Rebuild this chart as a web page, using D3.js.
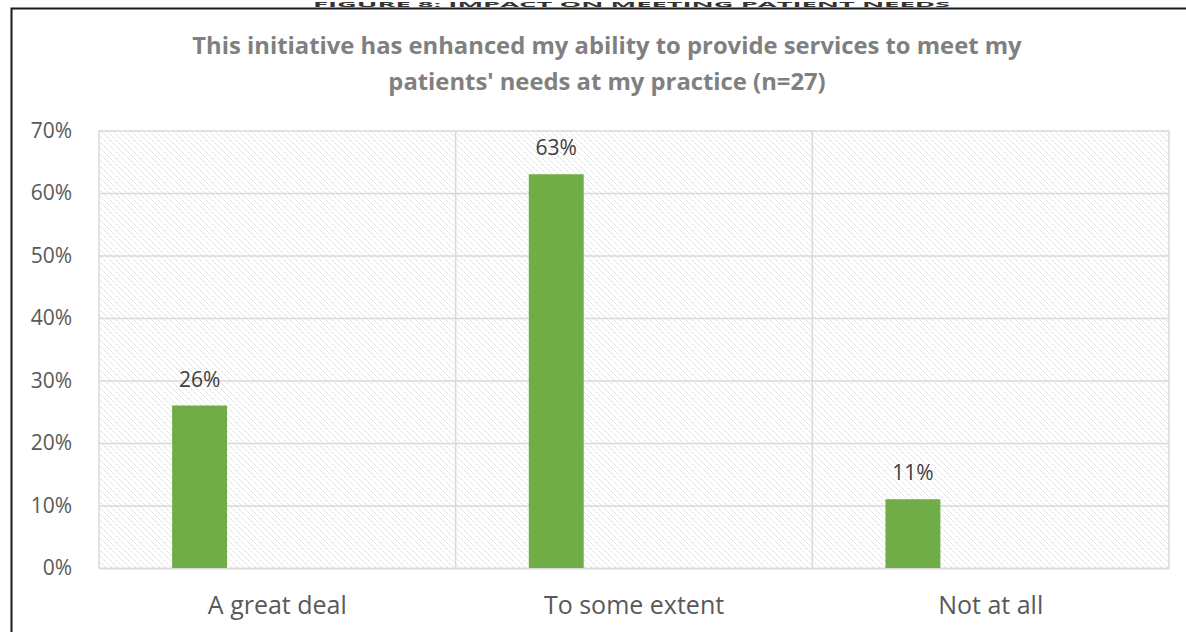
<!DOCTYPE html>
<html>
<head>
<meta charset="utf-8">
<script src="https://cdn.jsdelivr.net/npm/d3@7"></script>
<style>
  html, body { margin: 0; padding: 0; background: #fff; }
  svg { display: block; }
</style>
</head>
<body>
<svg id="chart" width="1186" height="632"></svg>
<script>
// Survey responses (share of respondents)
const categories = ["A great deal", "To some extent", "Not at all"];
const values = [0.26, 0.63, 0.11];
const valueLabels = ["26%", "63%", "11%"];
const yTicks = [0, 0.1, 0.2, 0.3, 0.4, 0.5, 0.6, 0.7];
const figureHeading = "FIGURE 8: IMPACT ON MEETING PATIENT NEEDS";
const titleLines = [
  "This initiative has enhanced my ability to provide services to meet my",
  "patients' needs at my practice (n=27)"
];

const svg = d3.select("#chart");
const W = 1186, H = 632;
const plot = { left: 99, right: 1169, top: 130.5, bottom: 568 };

// Diagonal hatch used as plot-area fill
const defs = svg.append("defs");
const pat = defs.append("pattern")
  .attr("id", "hatch")
  .attr("patternUnits", "userSpaceOnUse")
  .attr("width", 6).attr("height", 6);
pat.append("path")
  .attr("d", "M-1,-1 L7,7 M-1,5 L1,7 M5,-1 L7,1")
  .attr("stroke", "#d0d0d0")
  .attr("stroke-width", 1)
  .attr("stroke-dasharray", "1.2,0.9");

// Document heading, squeezed into the strip above the frame
svg.append("text")
  .attr("x", 313).attr("y", 7.2)
  .attr("font-family", "'Open Sans', Lato, sans-serif")
  .attr("font-weight", "bold")
  .attr("font-size", 7.5)
  .attr("textLength", 637)
  .attr("lengthAdjust", "spacingAndGlyphs")
  .attr("fill", "#333")
  .text(figureHeading);

// Chart frame
svg.append("path")
  .attr("d", `M11.5,${H + 2} L11.5,8.5 L${W + 2},8.5`)
  .attr("fill", "none")
  .attr("stroke", "#1a1a1a")
  .attr("stroke-width", 2);

// Title
svg.append("g").selectAll("text")
  .data(titleLines)
  .join("text")
  .attr("x", 607)
  .attr("y", (d, i) => 54 + i * 36)
  .attr("text-anchor", "middle")
  .attr("font-family", "'Open Sans', Lato, sans-serif")
  .attr("font-weight", "bold")
  .attr("font-size", 23.8)
  .attr("fill", "#808080")
  .text(d => d);

const x = d3.scaleBand()
  .domain(categories)
  .range([plot.left, plot.right])
  .padding(0);

const y = d3.scaleLinear()
  .domain([0, 0.7])
  .range([plot.bottom, plot.top]);

// Plot background
svg.append("rect")
  .attr("x", plot.left).attr("y", plot.top)
  .attr("width", plot.right - plot.left)
  .attr("height", plot.bottom - plot.top)
  .attr("fill", "url(#hatch)");

// Horizontal gridlines and percentage ticks
const yAxis = d3.axisLeft(y)
  .tickValues(yTicks)
  .tickFormat(d3.format(".0%"))
  .tickSize(-(plot.right - plot.left))
  .tickPadding(27);
const gy = svg.append("g")
  .attr("transform", `translate(${plot.left},0)`)
  .call(yAxis);
gy.select(".domain").remove();
gy.selectAll(".tick line")
  .attr("stroke", "#d9d9d9")
  .attr("stroke-width", 1.5);
gy.selectAll(".tick text")
  .attr("font-family", "'Open Sans', Lato, sans-serif")
  .attr("font-size", 21)
  .attr("fill", "#595959");

// Vertical category separators and plot edges
const xEdges = categories.map(c => x(c)).concat([x.range()[1]]);
svg.append("g").selectAll("line")
  .data(xEdges)
  .join("line")
  .attr("x1", d => d).attr("x2", d => d)
  .attr("y1", plot.top).attr("y2", plot.bottom)
  .attr("stroke", "#d9d9d9")
  .attr("stroke-width", 1.5);

// Category axis labels
const xAxis = d3.axisBottom(x).tickSize(0).tickPadding(28);
const gx = svg.append("g")
  .attr("transform", `translate(0,${plot.bottom})`)
  .call(xAxis);
gx.select(".domain")
  .attr("stroke", "#d9d9d9")
  .attr("stroke-width", 1.5);
gx.selectAll(".tick text")
  .attr("font-family", "'Open Sans', Lato, sans-serif")
  .attr("font-size", 25)
  .attr("fill", "#595959");

// Bars sit left of each category centre
const barOffset = 0.205, barWidth = 0.154;
svg.append("g").selectAll("rect")
  .data(values)
  .join("rect")
  .attr("x", (d, i) => x(categories[i]) + x.bandwidth() * barOffset)
  .attr("width", x.bandwidth() * barWidth)
  .attr("y", d => y(d))
  .attr("height", d => y(0) - y(d))
  .attr("fill", "#70ad47");

// Value labels
svg.append("g").selectAll("text")
  .data(values)
  .join("text")
  .attr("x", (d, i) => x(categories[i]) + x.bandwidth() * (barOffset + barWidth / 2))
  .attr("y", d => y(d) - 19)
  .attr("text-anchor", "middle")
  .attr("font-family", "'Open Sans', Lato, sans-serif")
  .attr("font-size", 21)
  .attr("fill", "#404040")
  .text((d, i) => valueLabels[i]);
</script>
</body>
</html>
